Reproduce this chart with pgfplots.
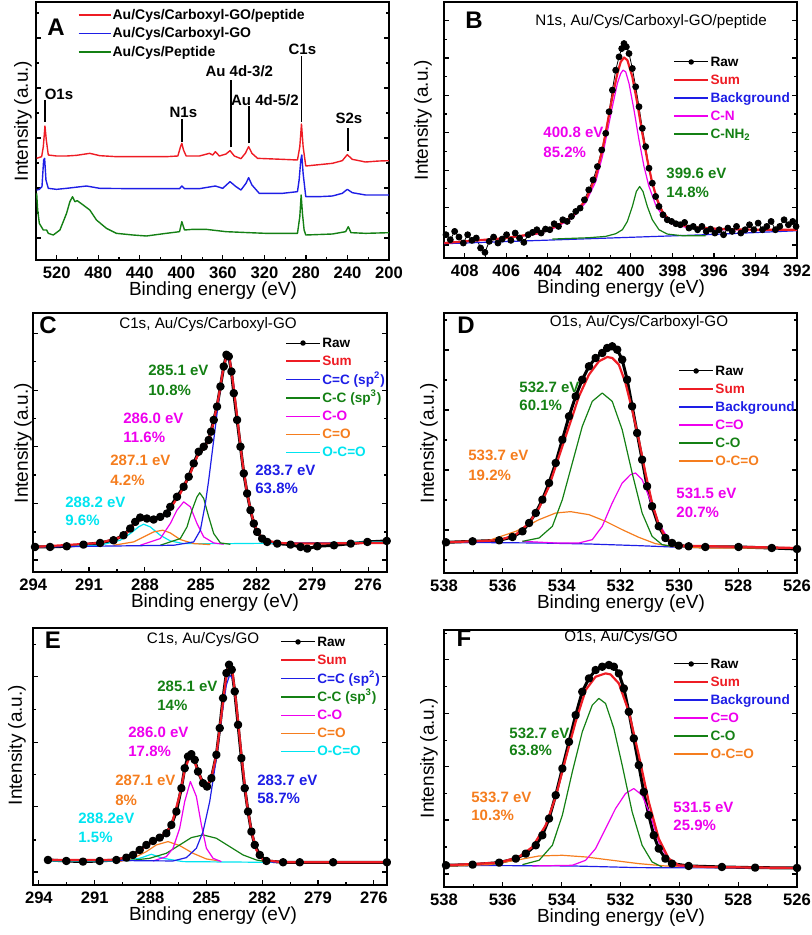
\documentclass[border=0pt]{standalone}
\usepackage{fontspec}
\setmainfont{Liberation Sans}
\usepackage{pgfplots}
\pgfplotsset{compat=1.18}

\definecolor{cRed}{RGB}{238,28,36}
\definecolor{cBlue}{RGB}{30,30,230}
\definecolor{cGreen}{RGB}{20,128,20}
\definecolor{cMag}{RGB}{238,0,238}
\definecolor{cOrange}{RGB}{245,125,30}
\definecolor{cCyan}{RGB}{0,228,240}

\newcommand{\fTick}{\fontsize{8.3}{9}\selectfont\bfseries}
\newcommand{\fLab}{\fontsize{9.5}{11}\selectfont}
\newcommand{\fAnn}{\fontsize{7.5}{9}\selectfont\bfseries}
\newcommand{\fLeg}{\fontsize{6.8}{8}\selectfont\bfseries}
\newcommand{\fLegA}{\fontsize{7}{8}\selectfont\bfseries}
\newcommand{\fTitle}{\fontsize{7.6}{9}\selectfont}
\newcommand{\fLet}{\fontsize{12}{14}\selectfont\bfseries}
\newcommand{\lstrut}{\rule[-1.5pt]{0pt}{7.5pt}}
% two-line peak annotation: x, y1, y2 (pixels), colour, line 1, line 2
\newcommand{\ann}[6]{%
  \node[anchor=west,inner sep=0pt,font=\fAnn,text=#4] at (#1,#2) {#5};
  \node[anchor=west,inner sep=0pt,font=\fAnn,text=#4] at (#1,#3) {#6};}

\pgfplotsset{
  xps/.style={
    scale only axis, anchor=north west, x dir=reverse, ymin=0,
    axis line style={line width=0.8pt},
    major tick length=2.6pt, minor tick length=1.4pt,
    every tick/.append style={line width=0.6pt, black},
    xtick pos=left, ytick pos=both, tick align=inside,
    yticklabels={}, minor x tick num=1,
    xticklabel style={font=\fTick, inner sep=0.5pt, yshift=-2.6pt},
    /pgf/number format/assume math mode=true,
    legend cell align=left,
    legend style={draw=none, fill=none, inner sep=0pt, outer sep=0pt,
      row sep=1.5pt, anchor=north west, font=\fLeg,
      nodes={inner xsep=0.6pt, inner ysep=0pt}},
    legend image code/.code={\draw[mark repeat=2,mark phase=2,#1]
      plot coordinates {(0pt,0pt) (8.5pt,0pt) (17pt,0pt)};},
    every axis plot/.append style={line join=round},
  },
  comp/.style={forget plot, line width=0.6pt},
  sumst/.style={forget plot, cRed, line width=1.1pt},
  rawst/.style={forget plot, black, line width=1.5pt, mark=*, mark size=1.35pt},
}

\begin{document}
\begin{tikzpicture}
\useasboundingbox (0,0) rectangle (406pt,-467.5pt);

% ---------------- A: survey spectra ----------------
\begin{axis}[xps, at={(18pt,-1pt)}, width=176.5pt, height=129pt,
  xmin=200, xmax=540, ymax=774, xtick={200,240,...,520},
  ytick={66,216,366,516,666}, minor ytick={141,291,441,591,741},
  legend style={at={(0.119,0.979)}, row sep=1.75pt, font=\fLegA},
  legend image code/.code={\draw[#1] (0pt,0pt) -- (16pt,0pt);}]
\addplot[cRed, line width=0.7pt] coordinates {
(539.36,305) (534.56,310) (532.96,340) (531.36,402) (530.08,360) (528.16,315)
(520.16,312) (510.56,312) (500.96,314) (488.16,320) (478.56,313) (462.56,310)
(446.56,310) (430.56,310) (414.56,310) (403.36,312) (400.8,340) (399.52,350)
(397.92,330) (395.36,312) (382.56,312) (372.96,320) (369.76,315) (367.2,325)
(363.36,312) (356.96,318) (353.12,328) (348.96,312) (342.56,304) (338.4,320)
(335.2,340) (332.0,320) (326.56,305) (318.56,304) (302.56,302) (288.16,300)
(285.9,340) (284.3,408) (282.7,340) (280.16,282) (267.36,286) (254.56,290)
(244.96,298) (240.16,316) (235.36,302) (222.56,294) (209.76,297) (199.5,298)};
\addlegendentry{\lstrut Au/Cys/Carboxyl-GO/peptide}
\addplot[cBlue, line width=0.7pt] coordinates {
(539.36,210) (536.8,212) (534.24,220) (532.64,300) (531.68,305) (530.4,240)
(528.16,215) (520.16,212) (510.56,215) (491.36,222) (478.56,215) (446.56,214)
(414.56,214) (401.76,214) (399.52,222) (396.96,214) (382.56,214) (367.2,222)
(360.16,215) (353.12,235) (347.36,220) (342.56,210) (337.76,230) (335.2,247)
(332.0,225) (324.96,200) (302.56,200) (288.16,205) (286.56,240) (284.96,300)
(284.0,315) (282.72,260) (280.16,190) (267.36,190) (254.56,192) (244.96,200)
(240.16,212) (235.36,202) (222.56,195) (199.5,195)};
\addlegendentry{\lstrut Au/Cys/Carboxyl-GO}
\addplot[cGreen, line width=0.7pt] coordinates {
(539.36,200) (538.4,150) (536.8,110) (532.96,90) (529.76,90) (528.16,80)
(523.36,75) (516.96,90) (510.56,140) (507.36,175) (504.8,190) (502.56,175)
(500.3,178) (494.56,165) (488.16,150) (481.76,120) (472.16,95) (462.56,80)
(446.56,75) (433.76,72) (414.56,80) (401.76,85) (399.52,115) (396.96,90)
(388.96,92) (376.16,92) (356.96,85) (334.56,82) (318.56,80) (288.16,80)
(285.9,130) (284.6,195) (283.36,140) (281.76,90) (280.16,75) (254.56,78)
(241.76,85) (239.2,100) (236.64,82) (222.56,80) (199.5,82)};
\addlegendentry{\lstrut Au/Cys/Peptide}
\draw[line width=0.8pt] (axis cs:531.4,415) -- (axis cs:531.4,480);
\draw[line width=0.8pt] (axis cs:399.5,355) -- (axis cs:399.5,423);
\draw[line width=0.8pt] (axis cs:352.2,338) -- (axis cs:352.2,540);
\draw[line width=0.8pt] (axis cs:334.6,350) -- (axis cs:334.6,462);
\draw[line width=0.8pt] (axis cs:284.3,415) -- (axis cs:284.3,612);
\draw[line width=0.8pt] (axis cs:239.5,328) -- (axis cs:239.5,395);
\node[font=\fAnn] at (axis cs:517.9,497) {O1s};
\node[font=\fAnn] at (axis cs:398.0,443) {N1s};
\node[font=\fAnn] at (axis cs:344.2,565) {Au 4d-3/2};
\node[font=\fAnn] at (axis cs:319.5,480) {Au 4d-5/2};
\node[font=\fAnn] at (axis cs:283.4,632) {C1s};
\node[font=\fAnn] at (axis cs:238.6,425) {S2s};
\end{axis}

% ---------------- B: N1s ----------------
\begin{axis}[xps, at={(222pt,-1pt)}, width=176.5pt, height=128pt,
  xmin=392, xmax=409, ymax=770, xtick={392,394,...,408},
  ytick={39,151.5,264,376.5,489,601.5,714}, minor ytick={95,208,320,433,545,658},
  legend style={at={(0.649,0.795)}}]
\addlegendimage{black, line width=0.5pt, mark=*, mark size=1.1pt}
\addlegendentry{\lstrut Raw}
\addlegendimage{cRed, line width=1.1pt}\addlegendentry{\lstrut\textcolor{cRed}{Sum}}
\addlegendimage{cBlue, line width=0.7pt}\addlegendentry{\lstrut\textcolor{cBlue}{Background}}
\addlegendimage{cMag, line width=0.7pt}\addlegendentry{\lstrut\textcolor{cMag}{C-N}}
\addlegendimage{cGreen, line width=0.7pt}\addlegendentry{\lstrut\textcolor{cGreen}{C-NH\textsubscript{2}}}
\addplot[forget plot, black, line width=0.4pt, mark=*, mark size=1.5pt] coordinates {
(408.904,70) (408.696,55) (408.487,80) (408.279,63) (408.071,45) (407.862,70)
(407.654,53) (407.446,60) (407.237,30) (407.029,17) (406.821,50) (406.612,63)
(406.404,45) (406.196,57) (405.987,70) (405.779,53) (405.571,75) (405.362,60)
(405.154,47) (404.946,70) (404.737,77) (404.529,85) (404.321,75) (404.112,87)
(403.904,85) (403.695,103) (403.487,95) (403.279,115) (403.070,110) (402.862,125)
(402.654,140) (402.445,150) (402.237,175) (402.029,205) (401.820,235) (401.612,275)
(401.404,325) (401.211,375) (401.051,440) (400.891,505) (400.731,565) (400.570,605)
(400.442,630) (400.330,645) (400.218,635) (400.090,615) (399.929,570) (399.769,515)
(399.609,455) (399.449,390) (399.288,335) (399.128,270) (398.968,225) (398.808,185)
(398.647,155) (398.455,130) (398.247,115) (398.039,110) (397.830,103) (397.622,100)
(397.413,107) (397.205,90) (396.997,95) (396.788,85) (396.580,95) (396.372,80)
(396.163,87) (395.955,75) (395.747,85) (395.538,70) (395.330,90) (395.122,80)
(394.913,95) (394.705,75) (394.497,85) (394.288,100) (394.080,85) (393.872,105)
(393.663,85) (393.455,95) (393.247,110) (393.038,85) (392.830,95) (392.622,115)
(392.413,100) (392.205,110) (392.045,95)};
\addplot[comp, cBlue] coordinates {(408.984,43) (396.404,70) (392.0,82)};
\addplot[comp, cGreen] coordinates {
(403.776,57) (402.013,61) (401.211,65) (400.731,73) (400.410,85) (400.170,110)
(399.929,155) (399.737,200) (399.577,215) (399.417,200) (399.208,155) (398.968,115)
(398.647,85) (398.247,72) (397.526,67) (396.404,67)};
\addplot[comp, cMag] coordinates {
(408.984,45) (406.019,59) (404.417,73) (403.615,92) (402.814,120) (402.173,167)
(401.692,230) (401.372,305) (401.131,380) (400.891,455) (400.651,525) (400.490,555)
(400.378,565) (400.250,560) (400.090,525) (399.849,445) (399.609,355) (399.368,275)
(399.128,215) (398.808,160) (398.487,127) (398.006,103) (397.205,90) (395.602,85)
(392.0,85)};
\addplot[sumst] coordinates {
(408.984,45) (406.019,60) (404.417,75) (403.615,95) (402.814,125) (402.173,175)
(401.692,245) (401.372,325) (401.131,405) (400.891,485) (400.651,555) (400.490,590)
(400.330,603) (400.170,595) (399.929,545) (399.689,465) (399.449,375) (399.208,295)
(398.968,225) (398.728,175) (398.487,140) (398.167,115) (397.686,100) (396.884,92)
(395.602,87) (394.000,85) (392.0,85)};
\end{axis}

% ---------------- C: C1s Au/Cys/Carboxyl-GO ----------------
\begin{axis}[xps, at={(16.65pt,-156.5pt)}, width=176.7pt, height=129.5pt,
  xmin=275, xmax=294, ymax=775, xtick={276,279,...,294},
  ytick={36,205,375,544,714}, minor ytick={120,290,460,629},
  legend style={at={(0.712,0.913)}}]
\addlegendimage{black, line width=0.5pt, mark=*, mark size=1.1pt}
\addlegendentry{\lstrut Raw}
\addlegendimage{cRed, line width=1.1pt}\addlegendentry{\lstrut\textcolor{cRed}{Sum}}
\addlegendimage{cBlue, line width=0.7pt}\addlegendentry{\lstrut\textcolor{cBlue}{C=C (sp\textsuperscript{2})}}
\addlegendimage{cGreen, line width=0.7pt}\addlegendentry{\lstrut\textcolor{cGreen}{C-C (sp\textsuperscript{3})}}
\addlegendimage{cMag, line width=0.7pt}\addlegendentry{\lstrut\textcolor{cMag}{C-O}}
\addlegendimage{cOrange, line width=0.7pt}\addlegendentry{\lstrut\textcolor{cOrange}{C=O}}
\addlegendimage{cCyan, line width=0.7pt}\addlegendentry{\lstrut\textcolor{cCyan}{O-C=O}}
\addplot[rawst] coordinates {
(293.908,75) (293.100,75) (292.202,77) (291.304,82) (290.406,87) (289.688,95)
(289.149,110) (288.790,130) (288.520,150) (288.251,163) (287.892,160) (287.532,157)
(287.173,165) (286.814,175) (286.634,195) (286.275,225) (285.916,255) (285.647,285)
(285.377,325) (285.108,360) (284.838,375) (284.569,395) (284.443,420) (284.300,455)
(284.120,495) (283.940,555) (283.761,615) (283.617,650) (283.491,645) (283.348,600)
(283.222,535) (283.042,455) (282.863,375) (282.683,295) (282.503,235) (282.324,185)
(282.144,145) (281.965,120) (281.695,100) (281.426,90) (280.887,85) (280.168,82)
(279.630,75) (279.271,70) (278.732,77) (277.834,80) (276.936,85) (276.038,90)
(275.0,93)};
\addplot[comp, cCyan] coordinates {
(293.908,75) (290.406,80) (289.328,95) (288.790,115) (288.341,135) (288.071,143)
(287.712,135) (287.173,110) (286.634,93) (285.916,85) (283.222,85) (279.630,87)
(275.0,90)};
\addplot[comp, cOrange] coordinates {
(289.688,80) (288.610,90) (288.071,105) (287.532,120) (287.047,125) (286.634,117)
(286.096,97) (285.377,85) (284.479,82)};
\addplot[comp, cMag] coordinates {
(288.251,80) (287.173,100) (286.634,145) (286.275,185) (285.916,210) (285.557,195)
(285.198,145) (284.838,105) (284.300,87) (283.761,83)};
\addplot[comp, cGreen] coordinates {
(287.173,80) (286.096,100) (285.736,135) (285.467,185) (285.198,225) (285.054,237)
(284.838,220) (284.569,165) (284.300,115) (283.940,87) (283.402,83)};
\addplot[comp, cBlue] coordinates {
(293.908,75) (286.455,80) (285.377,90) (285.018,125) (284.749,205) (284.569,275)
(284.390,355) (284.210,435) (284.030,515) (283.851,595) (283.617,643) (283.402,625)
(283.222,555) (283.007,445) (282.773,335) (282.503,235) (282.234,165) (281.965,120)
(281.606,95) (281.067,87) (275.0,87)};
\addplot[sumst] coordinates {
(293.908,75) (290.406,87) (289.149,107) (288.610,140) (288.251,157) (287.712,157)
(287.173,163) (286.634,190) (286.096,235) (285.557,295) (285.198,345) (284.838,370)
(284.569,395) (284.300,450) (284.030,525) (283.797,605) (283.617,645) (283.438,635)
(283.258,565) (283.042,465) (282.773,335) (282.503,235) (282.234,165) (281.965,120)
(281.606,97) (280.887,87) (279.630,85) (275.0,87)};
\end{axis}

% ---------------- D: O1s Au/Cys/Carboxyl-GO ----------------
\begin{axis}[xps, at={(222pt,-156.5pt)}, width=176.5pt, height=130pt,
  xmin=526, xmax=538, ymax=780, xtick={526,528,...,538},
  ytick={129,309,489,669}, minor ytick={39,219,399,579,759},
  legend style={at={(0.663,0.806)}}]
\addlegendimage{black, line width=0.5pt, mark=*, mark size=1.1pt}
\addlegendentry{\lstrut Raw}
\addlegendimage{cRed, line width=1.1pt}\addlegendentry{\lstrut\textcolor{cRed}{Sum}}
\addlegendimage{cBlue, line width=0.7pt}\addlegendentry{\lstrut\textcolor{cBlue}{Background}}
\addlegendimage{cMag, line width=0.7pt}\addlegendentry{\lstrut\textcolor{cMag}{C=O}}
\addlegendimage{cGreen, line width=0.7pt}\addlegendentry{\lstrut\textcolor{cGreen}{C-O}}
\addlegendimage{cOrange, line width=0.7pt}\addlegendentry{\lstrut\textcolor{cOrange}{O-C=O}}
\addplot[rawst] coordinates {
(537.932,92) (537.028,95) (536.124,98) (535.672,108) (535.333,125) (535.107,150)
(534.881,180) (534.655,220) (534.429,270) (534.203,330) (533.977,400) (533.751,470)
(533.525,530) (533.299,580) (533.073,620) (532.847,645) (532.621,660) (532.452,675)
(532.282,680) (532.113,670) (531.943,640) (531.774,580) (531.604,500) (531.435,420)
(531.265,340) (531.096,260) (530.926,200) (530.700,140) (530.474,105) (530.248,90)
(530.022,82) (529.683,80) (529.118,78) (527.988,78) (526.858,75) (526.0,72)};
\addplot[comp, cBlue] coordinates {
(537.932,92) (534.768,90) (533.073,87) (531.378,82) (530.248,78) (526.0,75)};
\addplot[comp, cOrange] coordinates {
(537.932,92) (536.463,98) (535.559,125) (534.768,160) (534.203,180) (533.695,184)
(533.073,175) (532.508,155) (531.943,130) (531.378,107) (530.813,88) (530.248,80)
(529.118,75) (526.0,75)};
\addplot[comp, cMag] coordinates {
(535.333,95) (534.203,90) (533.412,90) (532.960,100) (532.621,140) (532.282,210)
(531.943,270) (531.661,295) (531.491,300) (531.265,280) (531.039,230) (530.700,150)
(530.361,100) (530.022,80)};
\addplot[comp, cGreen] coordinates {
(535.333,95) (534.768,105) (534.316,140) (533.977,220) (533.638,330) (533.299,440)
(532.960,515) (532.621,540) (532.282,515) (531.943,430) (531.604,300) (531.265,180)
(530.926,110) (530.587,85) (530.248,80)};
\addplot[sumst] coordinates {
(537.932,92) (536.124,98) (535.559,115) (535.107,150) (534.768,195) (534.429,260)
(534.090,350) (533.751,440) (533.412,530) (533.073,595) (532.734,635) (532.452,648)
(532.282,645) (532.056,625) (531.830,570) (531.604,490) (531.378,400) (531.152,300)
(530.926,210) (530.700,145) (530.474,108) (530.248,90) (529.909,82) (526.0,75)};
\end{axis}

% ---------------- E: C1s Au/Cys/GO ----------------
\begin{axis}[xps, at={(16.65pt,-314pt)}, width=176.8pt, height=128.5pt,
  xmin=275.3, xmax=294.3, ymax=770, xtick={276,279,...,294},
  ytick={39,234,426,624}, minor ytick={135,330,525,720},
  legend style={at={(0.6975,0.975)}}]
\addlegendimage{black, line width=0.5pt, mark=*, mark size=1.1pt}
\addlegendentry{\lstrut Raw}
\addlegendimage{cRed, line width=1.1pt}\addlegendentry{\lstrut\textcolor{cRed}{Sum}}
\addlegendimage{cBlue, line width=0.7pt}\addlegendentry{\lstrut\textcolor{cBlue}{C=C (sp\textsuperscript{2})}}
\addlegendimage{cGreen, line width=0.7pt}\addlegendentry{\lstrut\textcolor{cGreen}{C-C (sp\textsuperscript{3})}}
\addlegendimage{cMag, line width=0.7pt}\addlegendentry{\lstrut\textcolor{cMag}{C-O}}
\addlegendimage{cOrange, line width=0.7pt}\addlegendentry{\lstrut\textcolor{cOrange}{C=O}}
\addlegendimage{cCyan, line width=0.7pt}\addlegendentry{\lstrut\textcolor{cCyan}{O-C=O}}
\addplot[rawst] coordinates {
(293.512,75) (292.526,72) (291.630,70) (290.734,72) (289.838,75) (289.300,82)
(288.942,90) (288.584,105) (288.225,120) (287.867,132) (287.508,142) (287.150,155)
(286.881,180) (286.612,220) (286.344,290) (286.164,350) (285.985,385) (285.806,392)
(285.627,375) (285.448,340) (285.179,305) (284.964,295) (284.731,320) (284.462,390)
(284.283,470) (284.104,560) (283.924,635) (283.781,660) (283.638,645) (283.477,580)
(283.297,480) (283.118,380) (282.939,290) (282.760,220) (282.580,160) (282.401,120)
(282.132,90) (281.774,72) (280.878,68) (279.982,68) (278.190,68) (275.3,68)};
\addplot[comp, cCyan] coordinates {
(293.512,72) (289.838,72) (288.584,80) (287.956,92) (287.329,80) (286.254,70)
(281.774,68) (275.3,68)};
\addplot[comp, cOrange] coordinates {
(289.659,70) (288.942,80) (288.225,100) (287.688,120) (287.060,130) (286.433,118)
(285.716,95) (284.999,78) (284.283,72)};
\addplot[comp, cGreen] coordinates {
(289.300,72) (288.046,80) (287.150,95) (286.433,120) (285.806,142) (285.179,150)
(284.462,140) (283.745,115) (283.028,90) (282.312,75) (281.595,68)};
\addplot[comp, cMag] coordinates {
(287.867,72) (287.150,85) (286.792,110) (286.433,170) (286.164,250) (285.860,310)
(285.537,265) (285.268,180) (284.999,110) (284.641,80) (284.193,70)};
\addplot[comp, cBlue] coordinates {
(293.512,75) (286.792,72) (286.075,82) (285.537,110) (285.179,160) (284.820,250)
(284.462,380) (284.193,500) (283.924,600) (283.745,630) (283.566,615) (283.351,520)
(283.118,390) (282.849,255) (282.580,160) (282.312,105) (281.954,75) (281.416,68)
(275.3,68)};
\addplot[sumst] coordinates {
(293.512,75) (289.838,75) (288.942,90) (288.225,118) (287.508,140) (286.881,177)
(286.433,270) (286.164,345) (285.896,385) (285.716,382) (285.448,340) (285.179,305)
(284.964,298) (284.731,320) (284.462,390) (284.193,510) (283.924,630) (283.781,655)
(283.602,640) (283.387,540) (283.118,390) (282.849,255) (282.580,160) (282.312,105)
(281.954,75) (280.878,68) (275.3,68)};
\end{axis}

% ---------------- F: O1s Au/Cys/GO ----------------
\begin{axis}[xps, at={(222pt,-315pt)}, width=176.5pt, height=128.5pt,
  xmin=526, xmax=538, ymax=770, xtick={526,528,...,538},
  ytick={39,201,360,519,681}, minor ytick={120,280,440,600,760},
  legend style={at={(0.649,0.897)}}]
\addlegendimage{black, line width=0.5pt, mark=*, mark size=1.1pt}
\addlegendentry{\lstrut Raw}
\addlegendimage{cRed, line width=1.1pt}\addlegendentry{\lstrut\textcolor{cRed}{Sum}}
\addlegendimage{cBlue, line width=0.7pt}\addlegendentry{\lstrut\textcolor{cBlue}{Background}}
\addlegendimage{cMag, line width=0.7pt}\addlegendentry{\lstrut\textcolor{cMag}{C=O}}
\addlegendimage{cGreen, line width=0.7pt}\addlegendentry{\lstrut\textcolor{cGreen}{C-O}}
\addlegendimage{cOrange, line width=0.7pt}\addlegendentry{\lstrut\textcolor{cOrange}{O-C=O}}
\addplot[rawst] coordinates {
(537.932,65) (537.028,67) (536.124,73) (535.559,85) (535.220,100) (534.881,125)
(534.655,155) (534.429,205) (534.203,275) (533.977,355) (533.751,435) (533.525,515)
(533.299,585) (533.073,625) (532.847,650) (532.621,660) (532.395,665) (532.226,660)
(532.056,640) (531.887,595) (531.717,525) (531.548,445) (531.378,365) (531.209,285)
(531.039,215) (530.870,155) (530.700,115) (530.474,85) (530.248,70) (529.683,63)
(528.553,60) (527.423,58) (526.0,57)};
\addplot[comp, cBlue] coordinates {
(537.932,65) (533.638,63) (531.378,58) (526.0,57)};
\addplot[comp, cOrange] coordinates {
(537.932,63) (536.463,67) (535.559,80) (534.768,93) (533.977,95) (533.186,90)
(532.282,80) (531.378,70) (530.474,63) (529.118,59) (526.0,57)};
\addplot[comp, cMag] coordinates {
(534.994,63) (533.638,65) (533.186,80) (532.847,115) (532.508,175) (532.169,235)
(531.830,280) (531.548,295) (531.265,275) (530.983,215) (530.700,135) (530.361,80)
(530.022,63) (529.683,60)};
\addplot[comp, cGreen] coordinates {
(535.333,67) (534.768,80) (534.316,125) (533.977,215) (533.638,345) (533.299,465)
(532.960,545) (532.734,565) (532.508,550) (532.226,475) (531.943,365) (531.604,225)
(531.265,125) (530.926,75) (530.587,60)};
\addplot[sumst] coordinates {
(537.932,65) (536.124,73) (535.446,90) (534.994,120) (534.542,185) (534.203,270)
(533.864,385) (533.525,495) (533.186,590) (532.847,630) (532.508,640) (532.339,637)
(532.056,610) (531.717,525) (531.378,395) (531.039,255) (530.700,145) (530.361,85)
(530.022,65) (529.118,60) (526.0,57)};
\end{axis}

% ---------------- texts, in pixels of the reference ----------------
\begin{scope}[x=0.5pt, y=-0.5pt]
\node[font=\fLet] at (56,27) {A};
\node[font=\fLet] at (474,20) {B};
\node[font=\fLet] at (48,325) {C};
\node[font=\fLet] at (466,325) {D};
\node[font=\fLet] at (53,640) {E};
\node[font=\fLet] at (464,638) {F};
\node[font=\fTitle] at (651,22) {N1s, Au/Cys/Carboxyl-GO/peptide};
\node[font=\fTitle] at (208,325) {C1s, Au/Cys/Carboxyl-GO};
\node[font=\fTitle] at (639,323) {O1s, Au/Cys/Carboxyl-GO};
\node[font=\fTitle] at (203,640) {C1s, Au/Cys/GO};
\node[font=\fTitle] at (621,638) {O1s, Au/Cys/GO};
\foreach \x/\y in {23/121, 423/120, 23/443, 429/443, 17/745, 429/758}
  \node[font=\fLab, rotate=90] at (\x,\y) {Intensity (a.u.)};
\foreach \x/\y in {213/291, 621/289, 215/603, 621/604, 213/916, 621/918}
  \node[font=\fLab, inner sep=0pt] at (\x,\y) {Binding energy (eV)};
% B
\ann{543}{132}{152}{cMag}{400.8 eV}{85.2\%}
\ann{666}{173}{192}{cGreen}{399.6 eV}{14.8\%}
% C
\ann{148}{370}{390}{cGreen}{285.1 eV}{10.8\%}
\ann{123}{418}{437}{cMag}{286.0 eV}{11.6\%}
\ann{110}{460}{480}{cOrange}{287.1 eV}{4.2\%}
\ann{65}{502}{520}{cCyan}{288.2 eV}{9.6\%}
\ann{255}{470}{488}{cBlue}{283.7 eV}{63.8\%}
% D
\ann{519}{387}{405}{cGreen}{532.7 eV}{60.1\%}
\ann{468}{455}{475}{cOrange}{533.7 eV}{19.2\%}
\ann{676}{493}{512}{cMag}{531.5 eV}{20.7\%}
% E
\ann{157}{686}{705}{cGreen}{285.1 eV}{14\%}
\ann{128}{732}{751}{cMag}{286.0 eV}{17.8\%}
\ann{115}{780}{800}{cOrange}{287.1 eV}{8\%}
\ann{78}{818}{837}{cCyan}{288.2eV}{1.5\%}
\ann{257}{780}{798}{cBlue}{283.7 eV}{58.7\%}
% F
\ann{509}{733}{750}{cGreen}{532.7 eV}{63.8\%}
\ann{471}{797}{815}{cOrange}{533.7 eV}{10.3\%}
\ann{673}{807}{825}{cMag}{531.5 eV}{25.9\%}
\end{scope}
\end{tikzpicture}
\end{document}
